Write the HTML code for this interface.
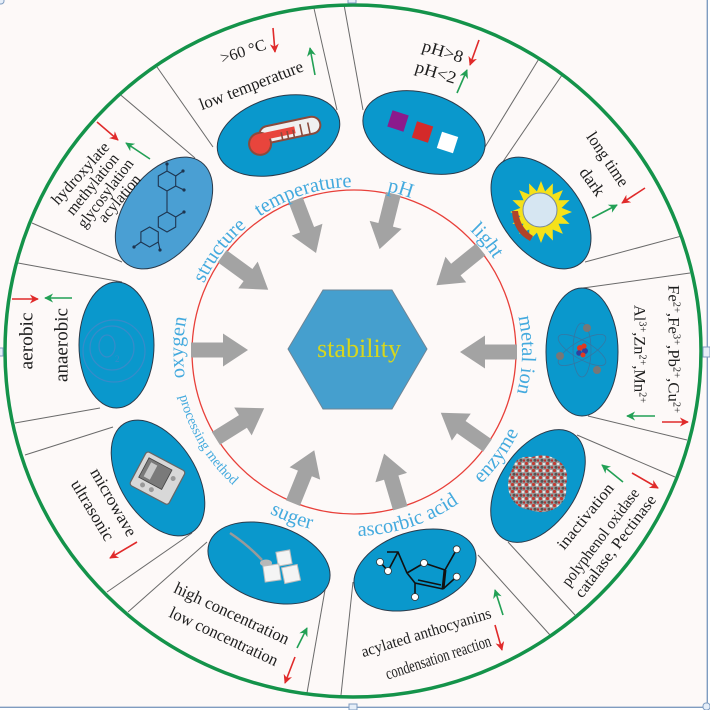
<!DOCTYPE html>
<html><head><meta charset="utf-8">
<style>
html,body{margin:0;padding:0;background:#fff;}
svg{display:block;}
</style></head>
<body>
<svg width="710" height="710" viewBox="0 0 710 710" xmlns="http://www.w3.org/2000/svg">
<defs>
<marker id="mr" viewBox="0 0 10 10" refX="9" refY="5" markerWidth="9" markerHeight="9" markerUnits="userSpaceOnUse" orient="auto"><path d="M0,0 L10,5 L0,10 L3,5z" fill="#e02a2a"/></marker>
<marker id="mg" viewBox="0 0 10 10" refX="9" refY="5" markerWidth="9" markerHeight="9" markerUnits="userSpaceOnUse" orient="auto"><path d="M0,0 L10,5 L0,10 L3,5z" fill="#22a055"/></marker>
<pattern id="prot" width="7" height="7" patternUnits="userSpaceOnUse">
<rect width="7" height="7" fill="#9a9a9a"/>
<circle cx="1.5" cy="1.5" r="1.6" fill="#c23a32"/>
<circle cx="5" cy="2" r="1.3" fill="#e6e6e6"/>
<circle cx="3" cy="5.2" r="1.5" fill="#555"/>
<circle cx="6" cy="5.5" r="1.2" fill="#b83030"/>
</pattern>
</defs>

<rect x="0" y="0" width="708" height="708" fill="#fdf9f8"/>

<g stroke="#6a6a6a" stroke-width="1" fill="none">
<line x1="213" y1="147" x2="157" y2="67"/>
<line x1="337" y1="110" x2="313.5" y2="6.2"/>
<line x1="363" y1="110" x2="343.9" y2="4.1"/>
<line x1="485" y1="147" x2="539.6" y2="57.7"/>
<line x1="502" y1="163" x2="562.8" y2="73.9"/>
<line x1="585" y1="262" x2="680.9" y2="236.2"/>
<line x1="583" y1="288" x2="690" y2="273"/>
<line x1="588" y1="416" x2="687" y2="440"/>
<line x1="577" y1="435" x2="675" y2="477"/>
<line x1="508" y1="542" x2="575" y2="615"/>
<line x1="478" y1="555" x2="550" y2="635"/>
<line x1="353" y1="582" x2="341" y2="695"/>
<line x1="325" y1="590" x2="307" y2="693"/>
<line x1="207" y1="542" x2="128" y2="612"/>
<line x1="192" y1="533" x2="107" y2="592"/>
<line x1="113" y1="427" x2="25" y2="455"/>
<line x1="100" y1="408" x2="15" y2="423"/>
<line x1="122" y1="282" x2="18" y2="263"/>
<line x1="122" y1="262" x2="32" y2="223"/>
<line x1="195" y1="158" x2="120" y2="94.4"/>
</g>

<ellipse cx="353" cy="351" rx="348" ry="346" fill="none" stroke="#14934a" stroke-width="3.5"/>

<g stroke="#2b3a4a" stroke-width="1">
<ellipse cx="278.5" cy="135.5" rx="63" ry="38" transform="rotate(-17 278.5 135.5)" fill="#0a98cc"/>
<ellipse cx="424" cy="132.5" rx="63" ry="39" transform="rotate(18 424 132.5)" fill="#0a98cc"/>
<ellipse cx="541" cy="213" rx="64" ry="39" transform="rotate(52 541 213)" fill="#0a98cc"/>
<ellipse cx="582" cy="352" rx="64" ry="36" transform="rotate(90 582 352)" fill="#0a98cc"/>
<ellipse cx="538" cy="486" rx="63" ry="38" transform="rotate(-56 538 486)" fill="#0a98cc"/>
<ellipse cx="415" cy="570" rx="63" ry="38" transform="rotate(-18 415 570)" fill="#0a98cc"/>
<ellipse cx="269" cy="563" rx="63" ry="38" transform="rotate(18 269 563)" fill="#0a98cc"/>
<ellipse cx="158" cy="478" rx="64" ry="38" transform="rotate(58 158 478)" fill="#0a98cc"/>
<ellipse cx="116.5" cy="345" rx="63" ry="37.5" transform="rotate(90 116.5 345)" fill="#0a98cc"/>
<ellipse cx="164" cy="213" rx="63" ry="39" transform="rotate(-54 164 213)" fill="#4a9fd3"/>
</g>

<g transform="translate(287,131) rotate(-12)">
<rect x="-28" y="-9" width="62" height="17" rx="8.5" fill="#f0f0f0" stroke="#8b4a3c" stroke-width="2"/>
<circle cx="-29" cy="7" r="11" fill="#e8453c" stroke="#8b4a3c" stroke-width="2"/>
<rect x="-28" y="-3" width="36" height="7" fill="#e8453c"/>
<path d="M-6,0v8M0,0v8M6,0v8M14,-4v12M22,-4v12" stroke="#8b4a3c" stroke-width="1.6"/>
</g>
<rect x="-8.5" y="-8.5" width="17" height="17" transform="translate(398,121) rotate(18)" fill="#8c1a8c"/>
<rect x="-8.5" y="-8.5" width="17" height="17" transform="translate(422.5,132) rotate(18)" fill="#d42a2a"/>
<rect x="-8.5" y="-8.5" width="17" height="17" transform="translate(447.5,142.5) rotate(18)" fill="#ffffff"/>
<polygon fill="#f5e11a" points="572,212 561.6,216.1 569.6,223.9 558.5,223.7 562.9,233.9 552.7,229.5 552.9,240.6 545.1,232.6 541,243 536.9,232.6 529.1,240.6 529.3,229.5 519.1,233.9 523.5,223.7 512.4,223.9 520.4,216.1 510,212 520.4,207.9 512.4,200.1 523.5,200.3 519.1,190.1 529.3,194.5 529.1,183.4 536.9,191.4 541,181 545.1,191.4 552.9,183.4 552.7,194.5 562.9,190.1 558.5,200.3 569.6,200.1 561.6,207.9"/>
<path d="M512,211 L518,211 Q520,228 533,236 L530,241 Q513,232 512,211z" fill="#b0432a"/>
<circle cx="540" cy="210" r="17" fill="#d6e6f2" stroke="#7a8a9a" stroke-width="1"/>
<g transform="translate(582,350)" fill="none" stroke="#3f6f9a" stroke-width="0.8" opacity="0.8">
<ellipse rx="27" ry="9" transform="rotate(30)"/>
<ellipse rx="27" ry="9" transform="rotate(90)"/>
<ellipse rx="27" ry="9" transform="rotate(150)"/>
</g>
<g>
<circle cx="580" cy="348" r="3" fill="#e03a22"/><circle cx="585" cy="351" r="3" fill="#3040a0"/>
<circle cx="579" cy="353" r="2.8" fill="#3040a0"/><circle cx="584" cy="346" r="2.6" fill="#e03a22"/>
<circle cx="583" cy="355" r="2.5" fill="#e03a22"/>
<circle cx="587" cy="328" r="4" fill="#777"/><circle cx="560" cy="356" r="4" fill="#777"/><circle cx="597" cy="370" r="4" fill="#777"/>
</g>
<path d="M512,470 Q515,455 532,457 Q548,452 560,462 Q570,470 566,486 Q568,500 556,508 Q544,515 530,510 Q515,508 510,495 Q505,482 512,470z" fill="url(#prot)"/>
<g stroke="#111" stroke-width="1.6" fill="none">
<path d="M407,573 L424,563 L445,570 M443,589 L415,583 L407,573 M445,570 L456.7,549.3 M443,589 L456.7,576.7 M415,583 L415,597 M407,573 L398,552 L387,552 M398,552 L388,571 M388,571 L380,562"/>
<path d="M445,570 L443,589" stroke-width="3"/>
<path d="M441,585 L418,580"/>
</g>
<g fill="#fff" stroke="#333" stroke-width="0.8">
<circle cx="424" cy="563" r="3.5"/><circle cx="456.7" cy="549.3" r="3.5"/><circle cx="456.7" cy="576.7" r="3.5"/>
<circle cx="415" cy="597" r="3.5"/><circle cx="388" cy="571" r="3.5"/><circle cx="380" cy="562" r="3.5"/>
</g>
<path d="M230,533 Q248,545 262,560" stroke="#9a9a9a" stroke-width="2.5" fill="none"/>
<ellipse cx="266" cy="563" rx="6" ry="3.5" fill="#b8b8b8"/>
<g fill="#f4f4f4" stroke="#bdbdbd" stroke-width="1">
<rect x="-7" y="-7" width="14" height="14" transform="translate(284,558) rotate(-10)"/>
<rect x="-8" y="-8" width="16" height="16" transform="translate(272,573) rotate(-8)"/>
<rect x="-8" y="-8" width="16" height="16" transform="translate(291,574) rotate(-12)"/>
</g>
<g transform="translate(157,479) rotate(28)">
<rect x="-22" y="-20" width="44" height="38" rx="3" fill="#d8d8d8" stroke="#666" stroke-width="1.2"/>
<rect x="-17" y="-15" width="26" height="22" fill="#7a7a7a" stroke="#444" stroke-width="0.8"/>
<rect x="-13" y="-12" width="7" height="16" fill="#c8c8c8"/>
<circle cx="-10" cy="12" r="2.5" fill="#999"/><circle cx="0" cy="12" r="2.5" fill="#999"/><circle cx="14" cy="-8" r="2.5" fill="#999"/>
</g>
<g fill="none" stroke="#4a86c8" stroke-width="1.2" opacity="0.7">
<circle cx="114" cy="351" r="31"/>
<circle cx="112" cy="348" r="22"/>
<ellipse cx="107" cy="346" rx="8" ry="11"/>
</g>
<text x="115" y="362" font-family="Liberation Serif, serif" font-size="9" fill="#4a86c8" opacity="0.7">2</text>
<g stroke="#1e3550" stroke-width="1.1" fill="none">
<polygon points="167,171 175.7,176 175.7,186 167,191 158.3,186 158.3,176"/>
<polygon points="167,212 175.7,217 175.7,227 167,232 158.3,227 158.3,217"/>
<polygon points="149.6,227 158.3,232 158.3,242 149.6,247 140.9,242 140.9,232"/>
<path d="M167,191 L167,212 M175.7,176 L183,171 M175.7,186 L184,190 M167,171 L167,164 M175.7,217 L184,212 M140.9,242 L134,247 M158.3,242 L160,250"/>
</g>
<g fill="#1e3550">
<circle cx="183" cy="171" r="1.6"/><circle cx="184" cy="190" r="1.6"/><circle cx="167" cy="164" r="1.6"/>
<circle cx="184" cy="212" r="1.6"/><circle cx="134" cy="247" r="1.6"/><circle cx="160" cy="250" r="1.6"/>
</g>

<circle cx="354" cy="352" r="162" fill="none" stroke="#e8403a" stroke-width="1.3"/>

<g fill="#a3a3a3">
<polygon points="0,-7.5 32,-7.5 32,-16.5 57,0 32,16.5 32,7.5 0,7.5" transform="translate(295.6,199.8) rotate(69)"/>
<polygon points="0,-7.5 32,-7.5 32,-16.5 57,0 32,16.5 32,7.5 0,7.5" transform="translate(393.4,193.8) rotate(104)"/>
<polygon points="0,-7.5 32,-7.5 32,-16.5 57,0 32,16.5 32,7.5 0,7.5" transform="translate(480.7,249.4) rotate(141)"/>
<polygon points="0,-7.5 32,-7.5 32,-16.5 57,0 32,16.5 32,7.5 0,7.5" transform="translate(517,352) rotate(180)"/>
<polygon points="0,-7.5 32,-7.5 32,-16.5 57,0 32,16.5 32,7.5 0,7.5" transform="translate(487.5,445.5) rotate(215)"/>
<polygon points="0,-7.5 32,-7.5 32,-16.5 57,0 32,16.5 32,7.5 0,7.5" transform="translate(400.3,508.3) rotate(253.5)"/>
<polygon points="0,-7.5 32,-7.5 32,-16.5 57,0 32,16.5 32,7.5 0,7.5" transform="translate(292.9,503.1) rotate(292)"/>
<polygon points="0,-7.5 32,-7.5 32,-16.5 57,0 32,16.5 32,7.5 0,7.5" transform="translate(215.8,438.4) rotate(328)"/>
<polygon points="0,-7.5 32,-7.5 32,-16.5 57,0 32,16.5 32,7.5 0,7.5" transform="translate(191,350) rotate(0)"/>
<polygon points="0,-7.5 32,-7.5 32,-16.5 57,0 32,16.5 32,7.5 0,7.5" transform="translate(222.1,256.2) rotate(36)"/>
</g>

<polygon points="288,349 323,290 392,290 427,349 392,409 323,409" fill="#459fce" stroke="#6d8596" stroke-width="1"/>
<text x="359" y="357" text-anchor="middle" font-family="Liberation Serif, serif" font-size="26" fill="#d6d61e" textLength="84" lengthAdjust="spacingAndGlyphs">stability</text>

<g fill="none">
<path id="pT" d="M201.2,289.7 A165,165 0 0 1 441.9,212.4"/>
<path id="pP" d="M262.3,216.0 A164,164 0 0 1 503.8,285.3"/>
<path id="pL" d="M354,184 A168,168 0 0 1 519.4,381.2"/>
<path id="pM" d="M464.2,225.2 A168,168 0 0 1 459.7,482.6"/>
<path id="pO" d="M240.7,480.1 A171,171 0 0 1 247.6,218.2"/>
<path id="pS" d="M193.2,389.1 A165,165 0 0 1 345.4,187.2"/>
<path id="pE" d="M366.8,534.6 A183,183 0 0 0 531.6,307.7"/>
<path id="pA" d="M256.5,508.0 A184,184 0 0 0 524.6,420.9"/>
<path id="pG" d="M182.3,412.5 A182,182 0 0 0 443.3,510.6"/>
<path id="pR" d="M183.8,293.4 A180,180 0 0 0 325.8,529.8"/>
</g>
<g font-family="Liberation Serif, serif" font-size="20.5" fill="#44aade">
<text><textPath href="#pT" startOffset="50%" text-anchor="middle">temperature</textPath></text>
<text><textPath href="#pP" startOffset="50%" text-anchor="middle">pH</textPath></text>
<text><textPath href="#pL" startOffset="50%" text-anchor="middle">light</textPath></text>
<text><textPath href="#pM" startOffset="50%" text-anchor="middle">metal ion</textPath></text>
<text><textPath href="#pO" startOffset="50%" text-anchor="middle">oxygen</textPath></text>
<text><textPath href="#pS" startOffset="50%" text-anchor="middle">structure</textPath></text>
<text><textPath href="#pE" startOffset="50%" text-anchor="middle">enzyme</textPath></text>
<text><textPath href="#pA" startOffset="50%" text-anchor="middle">ascorbic acid</textPath></text>
<text><textPath href="#pG" startOffset="50%" text-anchor="middle">suger</textPath></text>
<text font-size="14"><textPath href="#pR" startOffset="50%" text-anchor="middle">processing method</textPath></text>
</g>

<g font-family="Liberation Serif, serif" fill="#1e1e1e" text-anchor="middle" font-size="16">
<text transform="translate(243,51) rotate(-18)" dy="0.35em" textLength="47" lengthAdjust="spacingAndGlyphs">&gt;60 °C</text>
<text transform="translate(251,85) rotate(-21)" dy="0.35em" textLength="110" lengthAdjust="spacingAndGlyphs" font-size="17">low temperature</text>

<text transform="translate(443,51) rotate(17)" dy="0.35em" textLength="42" lengthAdjust="spacingAndGlyphs" font-size="17">pH&gt;8</text>
<text transform="translate(436,72) rotate(17)" dy="0.35em" textLength="42" lengthAdjust="spacingAndGlyphs" font-size="17">pH&lt;2</text>

<text transform="translate(608,159) rotate(56)" dy="0.35em" textLength="62" lengthAdjust="spacingAndGlyphs" font-size="17">long time</text>
<text transform="translate(592.5,181.5) rotate(54)" dy="0.35em" textLength="31" lengthAdjust="spacingAndGlyphs" font-size="17">dark</text>

<text transform="translate(674,349) rotate(90)" dy="0.35em" textLength="128" lengthAdjust="spacingAndGlyphs">Fe<tspan font-size="10" baseline-shift="super">2+</tspan>,Fe<tspan font-size="10" baseline-shift="super">3+</tspan>,Pb<tspan font-size="10" baseline-shift="super">2+</tspan>,Cu<tspan font-size="10" baseline-shift="super">2+</tspan></text>
<text transform="translate(640,354) rotate(90)" dy="0.35em" textLength="98" lengthAdjust="spacingAndGlyphs">Al<tspan font-size="10" baseline-shift="super">3+</tspan>,Zn<tspan font-size="10" baseline-shift="super">2+</tspan>,Mn<tspan font-size="10" baseline-shift="super">2+</tspan></text>

<text transform="translate(585,516) rotate(-51)" dy="0.35em" textLength="80" lengthAdjust="spacingAndGlyphs">inactivation</text>
<text transform="translate(600,537) rotate(-53)" dy="0.35em" textLength="118" lengthAdjust="spacingAndGlyphs">polyphenol oxidase</text>
<text transform="translate(615,546) rotate(-53)" dy="0.35em" textLength="124" lengthAdjust="spacingAndGlyphs">catalase, Pectinase</text>

<text transform="translate(426,632) rotate(-17)" dy="0.35em" textLength="135" lengthAdjust="spacingAndGlyphs">acylated anthocyanins</text>
<text transform="translate(438,657) rotate(-18) scale(0.74,1)" dy="0.35em" font-size="17">condensation reaction</text>

<text transform="translate(232,613) rotate(25)" dy="0.35em" textLength="125" lengthAdjust="spacingAndGlyphs" font-size="17">high concentration</text>
<text transform="translate(224,636) rotate(25)" dy="0.35em" textLength="118" lengthAdjust="spacingAndGlyphs" font-size="17">low concentration</text>

<text transform="translate(114,502) rotate(60)" dy="0.35em" textLength="76" lengthAdjust="spacingAndGlyphs" font-size="17">microwave</text>
<text transform="translate(93,510) rotate(59)" dy="0.35em" textLength="68" lengthAdjust="spacingAndGlyphs" font-size="17">ultrasonic</text>

<text transform="translate(26,341) rotate(-90)" dy="0.35em" textLength="57" lengthAdjust="spacingAndGlyphs" font-size="19">aerobic</text>
<text transform="translate(61,345) rotate(-90)" dy="0.35em" textLength="74" lengthAdjust="spacingAndGlyphs" font-size="19">anaerobic</text>

<text transform="translate(80,173) rotate(-48)" dy="0.35em" textLength="78" lengthAdjust="spacingAndGlyphs">hydroxylate</text>
<text transform="translate(92,184) rotate(-51)" dy="0.35em" textLength="74" lengthAdjust="spacingAndGlyphs">methylation</text>
<text transform="translate(105,193) rotate(-53)" dy="0.35em" textLength="82" lengthAdjust="spacingAndGlyphs">glycosylation</text>
<text transform="translate(119,198) rotate(-50)" dy="0.35em" textLength="57" lengthAdjust="spacingAndGlyphs">acylation</text>
</g>

<g stroke="#e02a2a" stroke-width="1.6" marker-end="url(#mr)">
<line x1="273" y1="28" x2="275" y2="52"/>
<line x1="479" y1="40" x2="470" y2="65"/>
<line x1="645" y1="188" x2="622" y2="203"/>
<line x1="662" y1="422" x2="688" y2="422"/>
<line x1="632" y1="473" x2="658" y2="488"/>
<line x1="495" y1="625" x2="502" y2="650"/>
<line x1="295" y1="657" x2="285" y2="683"/>
<line x1="137" y1="542" x2="110" y2="558"/>
<line x1="12" y1="299" x2="38" y2="299"/>
<line x1="97" y1="122" x2="118" y2="140"/>
</g>
<g stroke="#22a055" stroke-width="1.6" marker-end="url(#mg)">
<line x1="315" y1="75" x2="310" y2="48"/>
<line x1="457" y1="93" x2="467" y2="70"/>
<line x1="592" y1="218" x2="617" y2="205"/>
<line x1="655" y1="416" x2="627" y2="416"/>
<line x1="623" y1="482" x2="602" y2="465"/>
<line x1="503" y1="615" x2="495" y2="590"/>
<line x1="297" y1="648" x2="307" y2="628"/>
<line x1="72" y1="298" x2="45" y2="298"/>
<line x1="150" y1="159" x2="126" y2="143"/>
</g>

<rect x="708" y="0" width="2" height="710" fill="#fff"/>
<rect x="0" y="708" width="710" height="2" fill="#fff"/>
<line x1="707.3" y1="0" x2="707.3" y2="708" stroke="#7f9cc0" stroke-width="1.4"/>
<line x1="0" y1="707.3" x2="708" y2="707.3" stroke="#7f9cc0" stroke-width="1.4"/>
<g fill="#e6eef8" stroke="#7f9cc0" stroke-width="1">
<rect x="348" y="-3" width="8" height="6"/>
<rect x="-3" y="348" width="6" height="8"/>
<rect x="703" y="347" width="7" height="10"/>
<rect x="349" y="704" width="8" height="6"/>
<rect x="703" y="703" width="7" height="7" rx="3"/>
<rect x="-3" y="-3" width="7" height="7" rx="3"/>
</g>
</svg>
</body></html>
